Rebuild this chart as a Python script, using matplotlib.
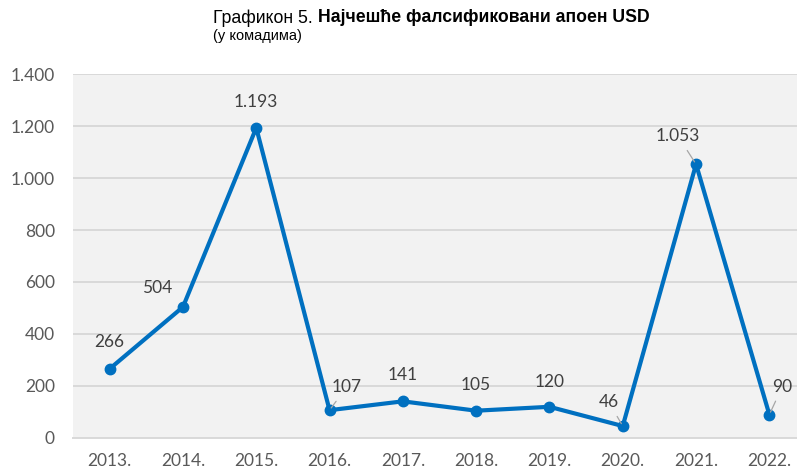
import matplotlib
matplotlib.use("Agg")
import matplotlib.pyplot as plt
from matplotlib.ticker import FuncFormatter

years = ["2013.", "2014.", "2015.", "2016.", "2017.", "2018.", "2019.", "2020.", "2021.", "2022."]
values = [266, 504, 1193, 107, 141, 105, 120, 46, 1053, 90]
yticks = [0, 200, 400, 600, 800, 1000, 1200, 1400]

# label offsets in pixels (dx, dy) and whether a leader line is drawn
label_offsets = [(0, 27), (-26, 19), (0, 26), (17, 23), (0, 26), (0, 26), (0, 25), (-14, 24), (-18, 28), (13, 28)]
leaders = [False, False, False, True, False, False, False, True, True, True]

def fmt(v, pos=None):
    return f"{int(v):,}".replace(",", ".")

fig = plt.figure(figsize=(7.97, 4.75), dpi=100)
ax = fig.add_axes([73/797, 37/475, 733/797, 364/475])
ax.set_facecolor("#F2F2F2")
for s in ax.spines.values():
    s.set_visible(False)

x = list(range(len(years)))
ax.plot(x, values, color="#0070C0", lw=3.0, marker="o", ms=7.5, zorder=3,
        solid_joinstyle="round")
ax.set_xlim(-0.5, len(years) - 0.5)
ax.set_ylim(0, 1400)
ax.set_yticks(yticks)
ax.yaxis.set_major_formatter(FuncFormatter(fmt))
ax.set_xticks(x)
ax.set_xticklabels(years)
ax.grid(axis="y", color="#D9D9D9", lw=1.4)
ax.set_axisbelow(True)
ax.tick_params(length=0, labelsize=12.5, labelcolor="#595959", colors="#595959")
ax.tick_params(axis="y", pad=13)
ax.tick_params(axis="x", pad=11)
for lbl in ax.get_xticklabels() + ax.get_yticklabels():
    lbl.set_fontfamily("Lato")
ax.axhline(0, color="#D9D9D9", lw=1.4, zorder=1, clip_on=False)

for i, v in enumerate(values):
    dx, dy = label_offsets[i]
    kw = {}
    if leaders[i]:
        kw["arrowprops"] = dict(arrowstyle="-", color="#A6A6A6", lw=0.9,
                                shrinkA=3, shrinkB=2)
    ax.annotate(fmt(v), (i, v), xytext=(dx, dy), textcoords="offset pixels",
                ha="center", va="center", fontsize=12.5, color="#404040",
                fontfamily="Lato", zorder=4, **kw)

t1 = fig.text(213/797, 1 - 18/475, "Графикон 5. ", fontsize=12.7,
              fontfamily="Liberation Sans", va="center", ha="left", color="#000000")
fig.canvas.draw()
bb = t1.get_window_extent()
fig.text(bb.x1 / fig.bbox.width, 1 - 18/475, "Најчешће фалсификовани апоен USD",
         fontsize=12.7, fontweight="bold", fontfamily="Liberation Sans",
         va="center", ha="left", color="#000000")
fig.text(213/797, 1 - 36/475, "(у комадима)", fontsize=10.5,
         fontfamily="Liberation Sans", va="center", ha="left", color="#000000")

fig.savefig("out.png", dpi=100)
